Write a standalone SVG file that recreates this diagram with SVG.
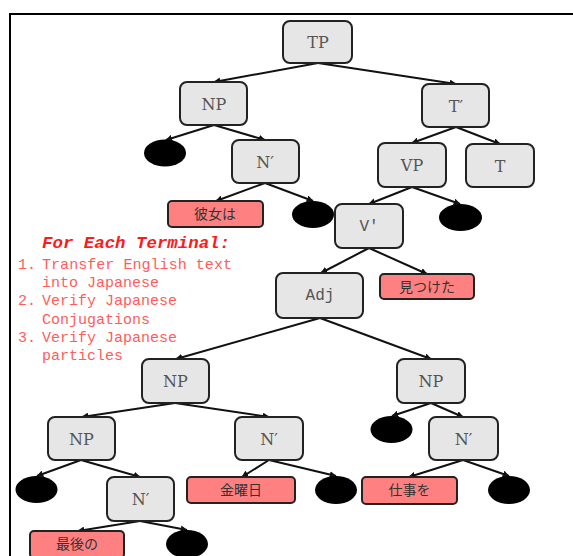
<svg xmlns="http://www.w3.org/2000/svg" width="573" height="556" viewBox="0 0 573 556">
  <defs>
    <marker id="arrow" viewBox="0 0 10 10" refX="9" refY="5" markerWidth="7" markerHeight="7" markerUnits="userSpaceOnUse" orient="auto">
      <path d="M0,0 L10,5 L0,10 z" fill="#111"/>
    </marker>
    <style>
      .box { fill: #e6e6e6; stroke: #222; stroke-width: 2; }
      .term { fill: #ff8080; stroke: #222; stroke-width: 2; }
      .leaf { fill: #000; }
      .serif { font-family: "DejaVu Serif", "Liberation Serif", serif; font-size: 16px; fill: #555; text-anchor: middle; }
      .mono { font-family: "Liberation Mono", "DejaVu Sans Mono", monospace; font-size: 16px; fill: #555; text-anchor: middle; }
      .jp { font-family: "Liberation Sans", "Noto Sans CJK JP", sans-serif; font-size: 14px; fill: #333; text-anchor: middle; }
      .edge { stroke: #111; stroke-width: 2; fill: none; marker-end: url(#arrow); }
      .head { font-family: "Liberation Mono", monospace; font-size: 17px; font-weight: bold; font-style: italic; fill: #ff1a1a; }
      .list { font-family: "Liberation Mono", monospace; font-size: 15px; fill: #ff5c5c; }
    </style>
  </defs>

  <rect width="573" height="556" fill="#fff"/>
  <!-- frame -->
  <path d="M10,556 L10,14 L573,14" fill="none" stroke="#000" stroke-width="2"/>

  <!-- connectors -->
  <g id="edges">
    <line class="edge" x1="318" y1="63" x2="214" y2="82"/>
    <line class="edge" x1="318" y1="63" x2="456" y2="84"/>
    <line class="edge" x1="214" y1="125" x2="166" y2="140"/>
    <line class="edge" x1="214" y1="125" x2="265" y2="140"/>
    <line class="edge" x1="265" y1="183" x2="216" y2="201"/>
    <line class="edge" x1="265" y1="183" x2="313" y2="201"/>
    <line class="edge" x1="456" y1="127" x2="412" y2="143"/>
    <line class="edge" x1="456" y1="127" x2="500" y2="144"/>
    <line class="edge" x1="412" y1="187" x2="369" y2="204"/>
    <line class="edge" x1="412" y1="187" x2="460" y2="204"/>
    <line class="edge" x1="369" y1="248" x2="321" y2="273"/>
    <line class="edge" x1="369" y1="248" x2="427" y2="274"/>
    <line class="edge" x1="320" y1="318" x2="176" y2="359"/>
    <line class="edge" x1="320" y1="318" x2="431" y2="359"/>
    <line class="edge" x1="175" y1="403" x2="82" y2="417"/>
    <line class="edge" x1="175" y1="403" x2="269" y2="417"/>
    <line class="edge" x1="81" y1="460" x2="37" y2="476"/>
    <line class="edge" x1="81" y1="460" x2="140" y2="477"/>
    <line class="edge" x1="140" y1="521" x2="78" y2="531"/>
    <line class="edge" x1="140" y1="521" x2="187" y2="530"/>
    <line class="edge" x1="269" y1="460" x2="242" y2="477"/>
    <line class="edge" x1="269" y1="460" x2="336" y2="476"/>
    <line class="edge" x1="431" y1="403" x2="392" y2="416"/>
    <line class="edge" x1="431" y1="403" x2="463" y2="417"/>
    <line class="edge" x1="463" y1="460" x2="409" y2="477"/>
    <line class="edge" x1="463" y1="460" x2="509" y2="476"/>
  </g>

  <!-- phrase nodes -->
  <g id="tp"><rect class="box" x="283" y="21" width="69" height="42" rx="7"/><text class="serif" x="318" y="48">TP</text></g>
  <g id="np1"><rect class="box" x="180" y="82" width="67" height="43" rx="7"/><text class="serif" x="214" y="110">NP</text></g>
  <g id="tbar"><rect class="box" x="422" y="84" width="67" height="43" rx="7"/><text class="serif" x="456" y="112">T′</text></g>
  <g id="leaf1"><ellipse class="leaf" cx="165" cy="153" rx="21" ry="13.5"/></g>
  <g id="nbar1"><rect class="box" x="232" y="140" width="67" height="43" rx="7"/><text class="serif" x="265" y="168">N′</text></g>
  <g id="vp"><rect class="box" x="378" y="143" width="68" height="44" rx="7"/><text class="serif" x="412" y="171">VP</text></g>
  <g id="t"><rect class="box" x="466" y="144" width="68" height="43" rx="7"/><text class="serif" x="500" y="172">T</text></g>
  <g id="term-kanojo"><rect class="term" x="168" y="201" width="95" height="26" rx="4"/><text class="jp" x="215" y="219">彼女は</text></g>
  <g id="leaf2"><ellipse class="leaf" cx="313" cy="214.5" rx="21" ry="13.5"/></g>
  <g id="vbar"><rect class="box" x="335" y="204" width="68" height="44" rx="7"/><text class="mono" x="369" y="231">V′</text></g>
  <g id="leaf3"><ellipse class="leaf" cx="460.5" cy="217.5" rx="21.5" ry="13.5"/></g>
  <g id="adj"><rect class="box" x="276" y="273" width="87" height="45" rx="7"/><text class="mono" x="320" y="300">Adj</text></g>
  <g id="term-mitsuketa"><rect class="term" x="380" y="274" width="94" height="25" rx="4"/><text class="jp" x="427" y="292">見つけた</text></g>

  <g id="np2"><rect class="box" x="142" y="359" width="67" height="44" rx="7"/><text class="serif" x="175.5" y="387">NP</text></g>
  <g id="np3"><rect class="box" x="397" y="359" width="68" height="44" rx="7"/><text class="serif" x="431" y="387">NP</text></g>
  <g id="np4"><rect class="box" x="48" y="417" width="67" height="43" rx="7"/><text class="serif" x="81.5" y="445">NP</text></g>
  <g id="nbar2"><rect class="box" x="235" y="417" width="68" height="43" rx="7"/><text class="serif" x="269" y="445">N′</text></g>
  <g id="leaf4"><ellipse class="leaf" cx="391.5" cy="429.5" rx="21" ry="13.5"/></g>
  <g id="nbar3"><rect class="box" x="429" y="417" width="69" height="43" rx="7"/><text class="serif" x="463.5" y="445">N′</text></g>
  <g id="leaf5"><ellipse class="leaf" cx="36.5" cy="489.5" rx="21" ry="13.5"/></g>
  <g id="nbar4"><rect class="box" x="107" y="477" width="67" height="44" rx="7"/><text class="serif" x="140.5" y="505">N′</text></g>
  <g id="term-kinyoubi"><rect class="term" x="187" y="477" width="108" height="26" rx="4"/><text class="jp" x="241" y="495">金曜日</text></g>
  <g id="leaf6"><ellipse class="leaf" cx="336" cy="490" rx="21" ry="14"/></g>
  <g id="term-shigoto"><rect class="term" x="362" y="477" width="95" height="27" rx="4"/><text class="jp" x="409.5" y="495">仕事を</text></g>
  <g id="leaf7"><ellipse class="leaf" cx="509" cy="490" rx="21" ry="14"/></g>
  <g id="term-saigo"><rect class="term" x="30" y="531" width="94" height="27" rx="4"/><text class="jp" x="77" y="549">最後の</text></g>
  <g id="leaf8"><ellipse class="leaf" cx="187" cy="544" rx="21" ry="14"/></g>

  <!-- instructions -->
  <g id="notes">
    <text class="head" x="42" y="248" textLength="188" lengthAdjust="spacingAndGlyphs">For Each Terminal:</text>
    <text class="list" x="18" y="268.5">1.</text>
    <text class="list" x="42" y="268.5" textLength="190" lengthAdjust="spacingAndGlyphs">Transfer English text</text>
    <text class="list" x="42" y="287">into Japanese</text>
    <text class="list" x="18" y="305">2.</text>
    <text class="list" x="42" y="305">Verify Japanese</text>
    <text class="list" x="42" y="323.5">Conjugations</text>
    <text class="list" x="18" y="342">3.</text>
    <text class="list" x="42" y="342">Verify Japanese</text>
    <text class="list" x="42" y="359.5">particles</text>
  </g>
</svg>
